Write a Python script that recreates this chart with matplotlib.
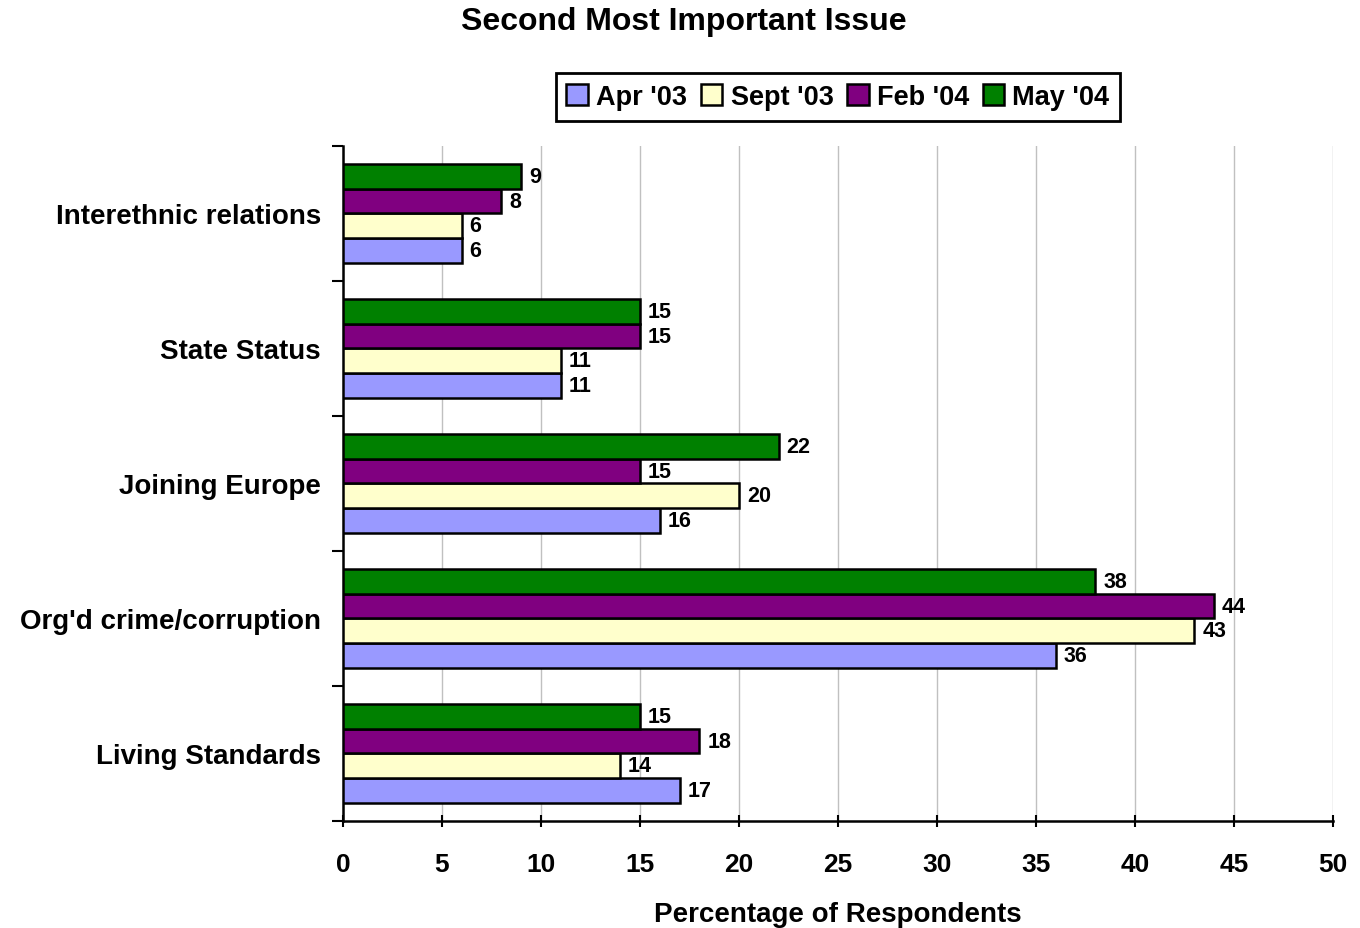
""" Second Most Important Issue
"""

import matplotlib.pyplot as plt
import numpy as np

categories = ['Living Standards', "Org'd crime/corruption", 'Joining Europe',
              'State Status', 'Interethnic relations']
series = ["Apr '03", "Sept '03", "Feb '04", "May '04"]
apr_03 = [17, 36, 16, 11, 6]
sept_03 = [14, 43, 20, 11, 6]
feb_04 = [18, 44, 15, 15, 8]
may_04 = [15, 38, 22, 15, 9]
colors = ['#9999FF', '#FFFFCC', '#800080', '#008000']


def main():
    plt.rcParams['font.family'] = ['Liberation Sans', 'DejaVu Sans']
    plt.rcParams['font.weight'] = 'bold'

    fig = plt.figure(figsize=(13.6, 9.29), dpi=100)
    ax = fig.add_axes([0.2522, 0.1152, 0.7278, 0.7266])

    y = np.arange(len(categories))
    h = 0.183
    values = [apr_03, sept_03, feb_04, may_04]
    for i, (name, vals) in enumerate(zip(series, values)):
        pos = y + (i - 1.5) * h
        bars = ax.barh(pos, vals, height=h, color=colors[i], edgecolor='black',
                       linewidth=1.8, label=name, zorder=3)
        for b, v in zip(bars, vals):
            ax.text(v + 0.4, b.get_y() + h / 2, str(v), va='center', ha='left',
                    fontsize=15.5, fontweight='bold', zorder=4)

    ax.set_xlim(0, 50)
    ax.set_ylim(-0.5, len(categories) - 0.5)
    ax.set_xticks(np.arange(0, 51, 5))
    ax.set_yticks(y)
    ax.set_yticklabels(categories, fontsize=20, fontweight='bold')
    ax.set_yticks(np.arange(-0.5, len(categories), 1), minor=True)
    ax.tick_params(axis='y', which='major', length=0, pad=16)
    ax.tick_params(axis='y', which='minor', length=8, width=1.5, direction='out')
    ax.tick_params(axis='x', length=8, width=1.5, direction='inout',
                   labelsize=19, pad=18)
    for lbl in ax.get_xticklabels():
        lbl.set_fontweight('bold')

    ax.grid(axis='x', color='#C0C0C0', linewidth=1, zorder=0)
    for s in ['top', 'right']:
        ax.spines[s].set_visible(False)
    for s in ['left', 'bottom']:
        ax.spines[s].set_linewidth(1.8)

    ax.set_xlabel('Percentage of Respondents', fontsize=20, fontweight='bold',
                  labelpad=18)
    fig.suptitle('Second Most Important Issue', fontsize=23, fontweight='bold',
                 x=0.503, y=0.992)

    leg = ax.legend(loc='center', bbox_to_anchor=(0.5, 1.0726), ncol=4,
                    frameon=True, fancybox=False, edgecolor='black',
                    framealpha=1, prop={'size': 19.5, 'weight': 'bold'},
                    handlelength=0.8, handleheight=0.8, handletextpad=0.3,
                    columnspacing=0.5, borderpad=0.4)
    leg.get_frame().set_linewidth(2)

    plt.savefig('out.png')


if __name__ == '__main__':
    main()
